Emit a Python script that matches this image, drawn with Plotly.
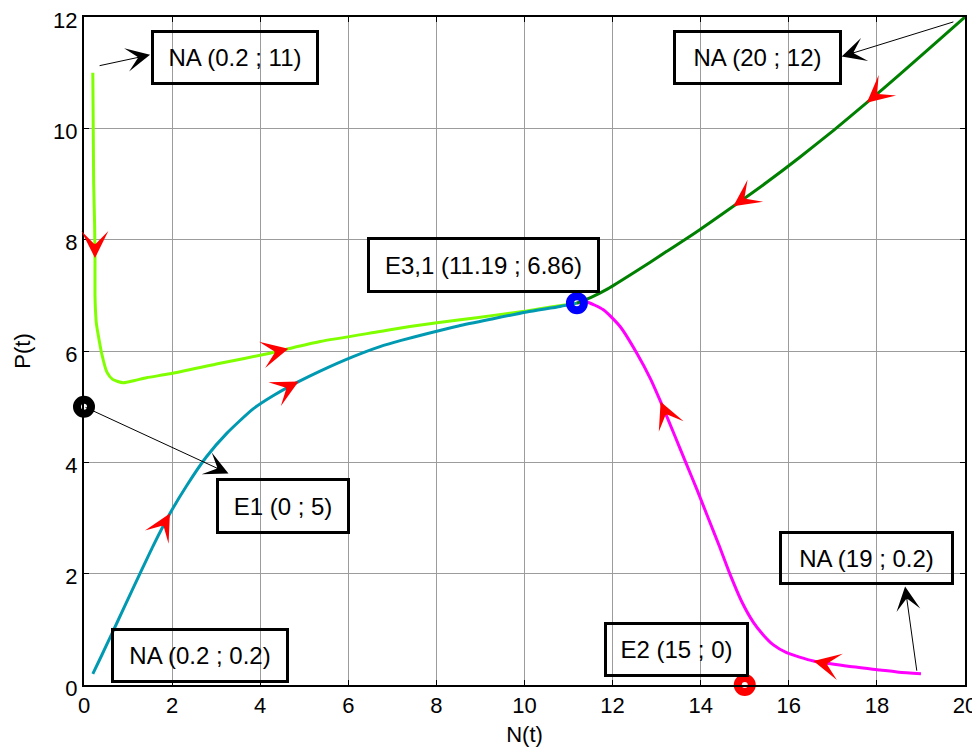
import math
import plotly.graph_objects as go

# ---------------- data ----------------
# light-green trajectory from NA (0.2 ; 11) to E3,1
green_n = [0.2, 0.21, 0.22, 0.24, 0.25, 0.25, 0.26, 0.28, 0.32, 0.40, 0.52, 0.65, 0.89, 1.15,
           1.42, 1.95, 3.09, 4.22, 4.64, 5.36, 6.72, 7.40, 8.54, 9.3, 10.05, 10.6, 11.19]
green_p = [11.0, 10.0, 9.0, 8.3, 7.67, 7.0, 6.75, 6.5, 6.3, 5.96, 5.62, 5.49, 5.43, 5.47,
           5.52, 5.59, 5.78, 5.96, 6.04, 6.17, 6.35, 6.44, 6.56, 6.64, 6.72, 6.79, 6.86]

# cyan trajectory from NA (0.2 ; 0.2) to E3,1
cyan_n = [0.2, 0.4, 0.65, 0.89, 1.27, 1.57, 1.95, 2.33, 2.78, 3.24, 3.84, 4.30, 4.87, 5.36,
          6.11, 6.72, 7.2, 7.78, 8.5, 9.29, 10.05, 10.81, 11.19]
cyan_p = [0.2, 0.53, 0.95, 1.36, 2.0, 2.50, 3.08, 3.58, 4.10, 4.52, 4.96, 5.20, 5.45, 5.64,
          5.90, 6.08, 6.19, 6.31, 6.45, 6.58, 6.70, 6.80, 6.86]

# magenta trajectory from NA (19 ; 0.2) to E3,1
mag_n = [19.0, 18.5, 18.07, 17.31, 16.56, 15.95, 15.65, 15.42, 15.2, 14.93, 14.66, 14.42,
         14.17, 13.92, 13.66, 13.40, 13.09, 12.86, 12.55, 12.17, 11.79, 11.41, 11.19]
mag_p = [0.2, 0.23, 0.27, 0.34, 0.43, 0.58, 0.72, 0.9, 1.12, 1.5, 2.0, 2.5,
         3.0, 3.5, 4.0, 4.5, 5.09, 5.5, 5.96, 6.44, 6.74, 6.88, 6.86]

# dark-green trajectory from NA (20 ; 12) to E3,1
dg_n = [20.0, 19.27, 18.52, 17.77, 17.01, 16.25, 15.50, 14.74, 13.98, 13.23, 12.47,
        11.9, 11.5, 11.19]
dg_p = [12.0, 11.49, 10.97, 10.46, 9.96, 9.48, 9.03, 8.60, 8.18, 7.79, 7.40,
        7.12, 6.96, 6.86]

# indices on each trajectory where direction arrows are drawn
green_arrows = [4, 18]
cyan_arrows = [6, 12]
mag_arrows = [4, 16]
dg_arrows = [3, 7]

# equilibrium points
eq_names = ["E1 (0 ; 5)", "E2 (15 ; 0)", "E3,1 (11.19 ; 6.86)"]
eq_n = [0, 15, 11.19]
eq_p = [5, 0, 6.86]
eq_colors = ["#000000", "#FF0000", "#0000FF"]

# initial-point labels
na_labels = ["NA (0.2 ; 11)", "NA (0.2 ; 0.2)", "NA (19 ; 0.2)", "NA (20 ; 12)"]

x_ticks = [0, 2, 4, 6, 8, 10, 12, 14, 16, 18, 20]
y_ticks = [0, 2, 4, 6, 8, 10, 12]

# ---------------- figure ----------------
# the page body has an 8px margin, so the figure is sized/offset to compensate
W, H = 972, 739
ML, MR, MT, MB = 76, 15, 9, 62
XR = (0, 20)
YR = (0, 12)
sx = (W - ML - MR) / (XR[1] - XR[0])
sy = (H - MT - MB) / (YR[1] - YR[0])

fig = go.Figure()

curves = [
    (green_n, green_p, "#80FF00", green_arrows),
    (cyan_n, cyan_p, "#0099B2", cyan_arrows),
    (mag_n, mag_p, "#FF00FF", mag_arrows),
    (dg_n, dg_p, "#008000", dg_arrows),
]

annotations = []
for xs, ys, col, arr in curves:
    fig.add_trace(go.Scatter(x=xs, y=ys, mode="lines",
                             line=dict(color=col, width=3, shape="spline", smoothing=0.6),
                             showlegend=False, hoverinfo="skip"))
    for i in arr:
        dxp = (xs[i + 1] - xs[i - 1]) * sx
        dyp = -(ys[i + 1] - ys[i - 1]) * sy
        nrm = math.hypot(dxp, dyp)
        L = 12
        annotations.append(dict(
            x=xs[i], y=ys[i], xref="x", yref="y", text="",
            font=dict(size=1), width=1, height=1, borderpad=0,
            showarrow=True, arrowhead=3, arrowsize=9, arrowwidth=0.5,
            arrowcolor="#FF0000", ax=-L * dxp / nrm, ay=-L * dyp / nrm,
            standoff=0, startstandoff=0,
        ))

# equilibrium markers
fig.add_trace(go.Scatter(
    x=eq_n, y=eq_p, mode="markers",
    marker=dict(symbol="circle-open", size=14, color=eq_colors,
                line=dict(width=8, color=eq_colors)),
    cliponaxis=False, showlegend=False, hoverinfo="skip"))

font_fam = "Liberation Sans, Arial, sans-serif"

# ----- text boxes (center N, center P, width, height) -----
boxes = [
    (na_labels[0], 3.43, 11.27, 166, 53),
    (na_labels[3], 15.29, 11.27, 167, 53),
    (eq_names[2], 9.07, 7.54, 231, 54),
    (eq_names[0], 4.52, 3.22, 132, 54),
    (na_labels[1], 2.63, 0.53, 176, 53),
    (eq_names[1], 13.45, 0.64, 143, 53),
    (na_labels[2], 17.76, 2.28, 173, 52),
]
for txt, cx, cy, bw, bh in boxes:
    annotations.append(dict(
        x=cx, y=cy, xref="x", yref="y", text=txt, showarrow=False,
        font=dict(family=font_fam, size=24, color="black"),
        bordercolor="black", borderwidth=3, borderpad=0,
        width=bw - 4, height=bh - 4, align="center", valign="middle",
    ))

# ----- label pointer arrows (tail at point, head at box) -----
pointers = [
    ((0.32, 11.12), (1.50, 11.32)),
    ((eq_n[0], eq_p[0]), (3.28, 3.80)),
    ((18.91, 0.23), (18.64, 1.77)),
    ((19.77, 11.92), (17.20, 11.29)),
]
for (tx, ty), (hx, hy) in pointers:
    annotations.append(dict(
        x=hx, y=hy, xref="x", yref="y", ax=tx, ay=ty, axref="x", ayref="y",
        text="", showarrow=True, arrowhead=3, arrowsize=4, arrowwidth=1,
        arrowcolor="black", standoff=0, startstandoff=0,
    ))

axis_common = dict(
    showgrid=True, gridcolor="#9C9C9C", gridwidth=1,
    showline=True, linecolor="black", linewidth=2, mirror="allticks",
    ticks="inside", ticklen=5, tickcolor="black", tickwidth=1,
    zeroline=False, automargin=False, ticklabeloverflow="allow",
    tickfont=dict(family=font_fam, size=22, color="black"),
)

fig.update_layout(
    width=W, height=H,
    margin=dict(l=ML, r=MR, t=MT, b=MB),
    paper_bgcolor="white", plot_bgcolor="white",
    xaxis=dict(range=list(XR), tickvals=x_ticks, ticktext=[str(v) for v in x_ticks],
               title=dict(text="N(t)", font=dict(family=font_fam, size=22, color="black"),
                          standoff=14),
               **axis_common),
    yaxis=dict(range=list(YR), tickvals=y_ticks, ticktext=[str(v) for v in y_ticks],
               ticklabelshift=3,
               title=dict(text="P(t)", font=dict(family=font_fam, size=22, color="black"),
                          standoff=16),
               **axis_common),
    annotations=annotations,
    showlegend=False,
)

fig.write_html("out.html")
